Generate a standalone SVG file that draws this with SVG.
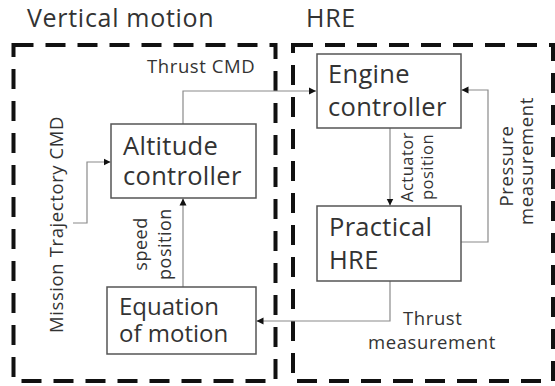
<svg xmlns="http://www.w3.org/2000/svg" width="555" height="386" viewBox="0 0 555 386">
<defs>
<style>
.frame{fill:none;stroke:#111;stroke-width:4;stroke-dasharray:20 12}
.box{fill:#fff;stroke:#555;stroke-width:1.5}
.conn{fill:none;stroke:#8a8a8a;stroke-width:1.2}
.t{font-family:"Open Sans","Noto Sans",sans-serif;fill:#333}
.big{font-size:25.5px;letter-spacing:0.3px}
.eq{font-size:24px}
.title{font-size:25px;letter-spacing:0.7px}
.lbl{font-size:18.5px;letter-spacing:0.6px}
.sp{font-size:18px;letter-spacing:0.5px}
.sm{font-size:16.5px;letter-spacing:0.5px}
</style>
<marker id="ah" markerUnits="userSpaceOnUse" markerWidth="8" markerHeight="8" refX="7" refY="4" orient="auto">
<path d="M0,0.5 L7,4 L0,7.5 Z" fill="#111"/>
</marker>
</defs>
<rect width="555" height="386" fill="#fff"/>
<g id="vertical-motion">
<rect class="frame" x="13.5" y="45" width="262" height="336"/>
<text class="t title" x="27" y="27">Vertical motion</text>
</g>
<g id="hre">
<rect class="frame" x="293" y="45" width="260" height="336"/>
<text class="t title" x="306" y="27">HRE</text>
</g>
<g id="connectors">
<path class="conn" d="M183,124 V91 H316" marker-end="url(#ah)"/>
<path class="conn" d="M73,223 H87 V162 H110.5" marker-end="url(#ah)"/>
<path class="conn" d="M183,287 V198.5" marker-end="url(#ah)"/>
<path class="conn" d="M390,128 V205.5" marker-end="url(#ah)"/>
<path class="conn" d="M461,242 H488 V90 H461.5" marker-end="url(#ah)"/>
<path class="conn" d="M390,281 V321 H256.5" marker-end="url(#ah)"/>
<text class="t lbl" x="147" y="73">Thrust CMD</text>
<text class="t lbl" transform="translate(63,333) rotate(-90)">Mission Trajectory CMD</text>
<text class="t sp" text-anchor="middle" transform="translate(147,244) rotate(-90)">speed</text>
<text class="t sp" text-anchor="middle" transform="translate(171,244) rotate(-90)">position</text>
<text class="t sm" text-anchor="middle" transform="translate(413,167) rotate(-90)">Actuator</text>
<text class="t sm" text-anchor="middle" transform="translate(433,167) rotate(-90)">position</text>
<text class="t lbl" text-anchor="middle" transform="translate(513,166) rotate(-90)">Pressure</text>
<text class="t lbl" text-anchor="middle" transform="translate(533,161) rotate(-90)">measurement</text>
<text class="t lbl" x="403" y="325">Thrust</text>
<text class="t lbl" x="368" y="349">measurement</text>
</g>
<g id="altitude-controller">
<rect class="box" x="111" y="124" width="145" height="74"/>
<text class="t big" x="123" y="155">Altitude</text>
<text class="t big" x="123" y="185">controller</text>
</g>
<g id="equation-of-motion">
<rect class="box" x="107" y="287" width="149" height="67"/>
<text class="t eq" x="119" y="315">Equation</text>
<text class="t eq" x="119" y="342">of motion</text>
</g>
<g id="engine-controller">
<rect class="box" x="317" y="54" width="144" height="74"/>
<text class="t big" x="328" y="83">Engine</text>
<text class="t big" x="328" y="116">controller</text>
</g>
<g id="practical-hre">
<rect class="box" x="317" y="206" width="144" height="75"/>
<text class="t big" x="329" y="236">Practical</text>
<text class="t big" x="329" y="269">HRE</text>
</g>
</svg>
